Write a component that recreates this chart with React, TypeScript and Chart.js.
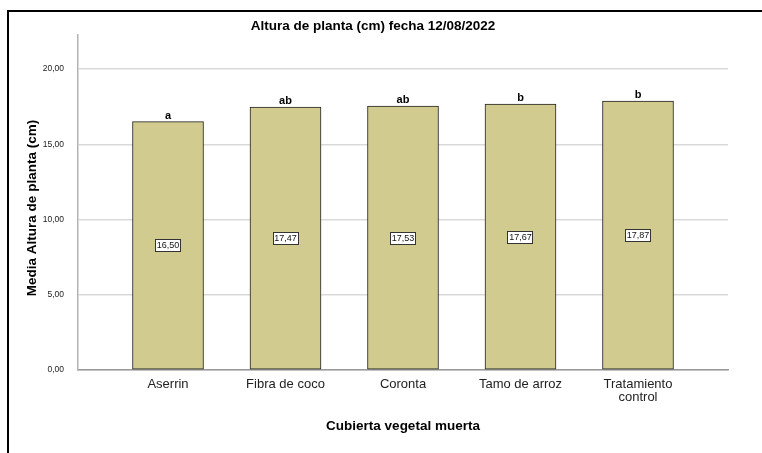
import React, { useEffect, useRef } from 'react';
import { Chart, registerables } from 'chart.js';

Chart.register(...registerables);

const categories = ['Aserrin', 'Fibra de coco', 'Coronta', 'Tamo de arroz', 'Tratamiento\ncontrol'];
const means = [16.5, 17.47, 17.53, 17.67, 17.87];
const letters = ['a', 'ab', 'ab', 'b', 'b'];

const chartTitle = 'Altura de planta (cm) fecha 12/08/2022';
const xTitle = 'Cubierta vegetal muerta';
const yTitle = 'Media Altura de planta (cm)';

const FONT = "'Liberation Sans', Arial, sans-serif";
const fmt = (v: number) => v.toFixed(2).replace('.', ',');

const decorations = {
  id: 'decorations',
  afterDraw(chart: any) {
    const ctx = chart.ctx as CanvasRenderingContext2D;
    const area = chart.chartArea;
    ctx.save();
    // frame
    ctx.fillStyle = '#000';
    ctx.fillRect(7, 10, 2, chart.height - 10);
    ctx.fillRect(7, 10, chart.width - 7, 2);

    // titles
    ctx.fillStyle = '#000';
    ctx.textAlign = 'center';
    ctx.textBaseline = 'middle';
    ctx.font = `bold 13.5px ${FONT}`;
    ctx.fillText(chartTitle, 373, 26);
    ctx.fillText(xTitle, (area.left + area.right) / 2, 426);
    ctx.save();
    ctx.translate(32, 208);
    ctx.rotate(-Math.PI / 2);
    ctx.fillText(yTitle, 0, 0);
    ctx.restore();

    // bar annotations
    const meta = chart.getDatasetMeta(0);
    meta.data.forEach((bar: any, i: number) => {
      ctx.font = `bold 11px ${FONT}`;
      ctx.textBaseline = 'alphabetic';
      ctx.fillStyle = '#000';
      ctx.fillText(letters[i], bar.x, bar.y - 3);

      const txt = fmt(means[i]);
      ctx.font = `9px ${FONT}`;
      const tw = ctx.measureText(txt).width;
      const bw = Math.round(tw + 3);
      const bh = 13;
      const cy = Math.round((bar.y + bar.base) / 2);
      const bx = Math.round(bar.x - bw / 2);
      const by = cy - 6;
      ctx.fillStyle = '#fff';
      ctx.fillRect(bx, by, bw, bh);
      ctx.strokeStyle = '#333';
      ctx.lineWidth = 1;
      ctx.strokeRect(bx + 0.5, by + 0.5, bw - 1, bh - 1);
      ctx.fillStyle = '#111';
      ctx.textBaseline = 'middle';
      ctx.fillText(txt, bar.x, cy + 1);
    });
    ctx.restore();
  },
};

export default function App() {
  const ref = useRef<HTMLCanvasElement>(null);

  useEffect(() => {
    document.body.style.margin = '0';
    const canvas = ref.current;
    if (!canvas) return;
    const chart = new Chart(canvas, {
      type: 'bar',
      data: {
        datasets: [
          {
            data: means.map((v, i) => ({ x: i, y: v })),
            backgroundColor: 'rgb(209,203,143)',
            borderColor: '#222',
            borderWidth: 1,
            borderSkipped: false,
            barThickness: 71,
          } as any,
        ],
      },
      options: {
        animation: false,
        responsive: false,
        devicePixelRatio: 1,
        layout: { padding: { top: 35, right: 34, left: 0, bottom: 0 } },
        plugins: {
          legend: { display: false },
          tooltip: { enabled: false },
          title: { display: false },
        },
        scales: {
          x: {
            type: 'linear',
            min: -0.766,
            max: 4.766,
            offset: false,
            grid: { display: false, drawTicks: false },
            border: { display: true, color: '#9a9a9a', width: 1.5 },
            ticks: {
              stepSize: 1,
              includeBounds: false,
              autoSkip: false,
              maxRotation: 0,
              minRotation: 0,
              padding: 8,
              color: '#222',
              font: { family: FONT, size: 13, lineHeight: 1.0 },
              callback: (v: any) => {
                const n = Number(v);
                return Number.isInteger(n) && categories[n] ? categories[n].split('\n') : '';
              },
            },
            afterFit: (s: any) => {
              s.height = 83;
            },
          } as any,
          y: {
            min: 0,
            max: 22.26,
            grid: { color: '#d9d9d9', lineWidth: 1.5, drawTicks: false },
            border: { display: true, color: '#b4b4b4', width: 1.5 },
            ticks: {
              stepSize: 5,
              includeBounds: false,
              padding: 14,
              color: '#222',
              font: { family: FONT, size: 8.5 },
              callback: (v: any) => fmt(Number(v)),
            },
            afterFit: (s: any) => {
              s.width = 78;
            },
          } as any,
        },
      },
      plugins: [decorations],
    });
    return () => chart.destroy();
  }, []);

  return (
    <div style={{ width: 762, height: 453, background: '#fff' }}>
      <canvas ref={ref} width={762} height={453} style={{ display: 'block' }} />
    </div>
  );
}
